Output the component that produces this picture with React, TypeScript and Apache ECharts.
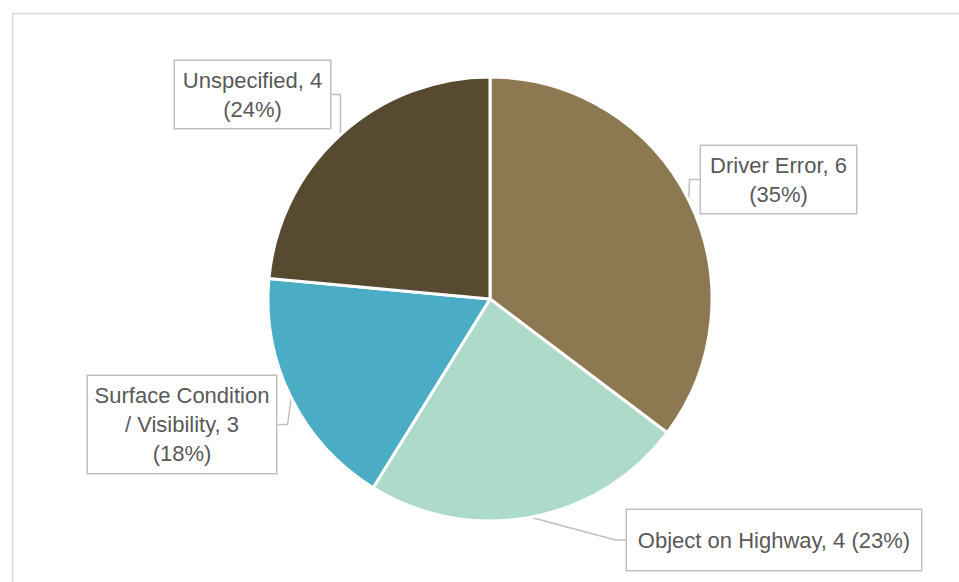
import React, { useEffect, useRef } from "react";
import * as echarts from "echarts";

const categories = ["Driver Error", "Object on Highway", "Surface Condition / Visibility", "Unspecified"];
const values = [6, 4, 3, 4];
const percentLabels = ["35%", "23%", "18%", "24%"];
const labelTexts = [
  "Driver Error, 6\n(35%)",
  "Object on Highway, 4 (23%)",
  "Surface Condition\n/ Visibility, 3\n(18%)",
  "Unspecified, 4\n(24%)",
];
const colors = ["#8C7951", "#AEDACA", "#4BACC6", "#574A31"];

// label box layout: center x, center y, box width, box height, number of lines
const labelBoxes = [
  { cx: 778.5, cy: 179.5, w: 157, h: 67, lines: 2 },
  { cx: 774, cy: 540, w: 296, h: 60, lines: 1 },
  { cx: 182, cy: 424.5, w: 190, h: 97, lines: 3 },
  { cx: 252.5, cy: 94.5, w: 157, h: 67, lines: 2 },
];
const LINE_H = 29;

export default function App() {
  const ref = useRef<HTMLDivElement>(null);
  useEffect(() => {
    document.body.style.margin = "0";
    const chart = echarts.init(ref.current!, null, { renderer: "svg" });
    const data = categories.map((name, i) => {
      const b = labelBoxes[i];
      const padV = (b.h - b.lines * LINE_H) / 2;
      return {
        name,
        value: values[i],
        itemStyle: { color: colors[i] },
        label: {
          formatter: () => labelTexts[i],
          width: b.w - 2,
          padding: [padV, 0, padV, 0],
        },
      };
    });
    chart.setOption({
      animation: false,
      backgroundColor: "#ffffff",
      graphic: [
        {
          type: "rect",
          left: 10,
          top: 11,
          shape: { x: 0, y: 0, width: 980, height: 620 },
          style: { fill: "none", stroke: "#D9D9D9", lineWidth: 1.5 },
          silent: true,
        },
      ],
      series: [
        {
          type: "pie",
          center: [490, 299],
          radius: 222,
          startAngle: 90,
          clockwise: true,
          avoidLabelOverlap: false,
          itemStyle: { borderColor: "#ffffff", borderWidth: 3 },
          label: {
            show: true,
            position: "outside",
            color: "#595959",
            fontFamily: "Liberation Sans",
            fontSize: 22,
            lineHeight: LINE_H,
            align: "center",
            backgroundColor: "#ffffff",
            borderColor: "#BFBFBF",
            borderWidth: 1.5,
          },
          labelLine: {
            show: true,
            length: 10,
            length2: 10,
            lineStyle: { color: "#BFBFBF", width: 1.5 },
          },
          labelLayout: (params: any) => {
            const b = labelBoxes[params.dataIndex];
            return { x: b.cx, y: b.cy, align: "center", verticalAlign: "middle" };
          },
          data,
        },
      ],
    });
    return () => chart.dispose();
  }, []);
  return <div ref={ref} style={{ width: 959, height: 582 }} />;
}
